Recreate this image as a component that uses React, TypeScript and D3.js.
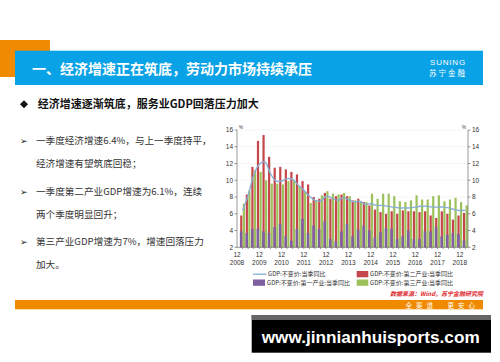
import React from "react";
import * as d3 from "d3";

// 季度（2008-12 为坐标起点，无数据）
const quarters = [
  "2009-03", "2009-06", "2009-09", "2009-12",
  "2010-03", "2010-06", "2010-09", "2010-12",
  "2011-03", "2011-06", "2011-09", "2011-12",
  "2012-03", "2012-06", "2012-09", "2012-12",
  "2013-03", "2013-06", "2013-09", "2013-12",
  "2014-03", "2014-06", "2014-09", "2014-12",
  "2015-03", "2015-06", "2015-09", "2015-12",
  "2016-03", "2016-06", "2016-09", "2016-12",
  "2017-03", "2017-06", "2017-09", "2017-12",
  "2018-03", "2018-06", "2018-09", "2018-12",
  "2019-03",
];

// GDP:不变价:当季同比
const gdpTotal = [
  6.4, 8.2, 10.6, 11.9, 12.2, 10.8, 9.9, 9.9, 10.2, 10.1, 9.4, 8.8,
  8.1, 7.6, 7.5, 8.1, 7.9, 7.6, 7.9, 7.7, 7.4, 7.5, 7.1, 7.2,
  7.0, 7.0, 6.9, 6.8, 6.7, 6.7, 6.7, 6.8, 6.9, 6.9, 6.8, 6.8,
  6.8, 6.7, 6.5, 6.4, 6.4,
];

// GDP:不变价:第一产业:当季同比
const gdpPrimary = [
  3.9, 3.7, 4.2, 4.2, 3.9, 3.7, 4.4, 4.8, 3.3, 2.8, 4.2, 5.4,
  3.7, 4.6, 4.2, 5.1, 3.0, 2.7, 3.9, 4.8, 3.3, 4.1, 4.6, 4.0,
  3.2, 3.8, 4.3, 4.2, 3.0, 3.3, 4.0, 3.0, 3.0, 3.9, 3.9, 4.4,
  3.3, 3.5, 3.7, 3.6, 2.8,
];

// GDP:不变价:第二产业:当季同比
const gdpSecondary = [
  5.8, 8.3, 11.6, 14.7, 15.4, 12.8, 11.5, 11.6, 11.3, 11.0, 10.7, 9.9,
  9.5, 8.0, 7.8, 8.5, 7.8, 8.1, 8.3, 8.1, 7.6, 7.8, 7.4, 7.0,
  6.5, 6.2, 6.0, 6.3, 6.0, 6.4, 6.3, 6.3, 6.2, 6.3, 5.8, 5.5,
  6.3, 6.0, 5.3, 5.8, 6.1,
];

// GDP:不变价:第三产业:当季同比
const gdpTertiary = [
  7.2, 8.8, 11.2, 11.0, 10.0, 9.6, 9.6, 9.5, 9.9, 9.9, 9.3, 8.6,
  7.3, 7.6, 8.2, 8.7, 8.4, 8.3, 8.5, 8.1, 7.6, 7.5, 7.4, 8.4,
  7.8, 8.4, 8.4, 8.1, 7.5, 7.4, 7.6, 8.2, 7.7, 7.7, 8.1, 8.2,
  7.5, 7.7, 7.9, 7.4, 7.0,
];

const yearTicks = [
  "2008-12", "2009-12", "2010-12", "2011-12", "2012-12", "2013-12",
  "2014-12", "2015-12", "2016-12", "2017-12", "2018-12",
];
const yTicks = [2, 4, 6, 8, 10, 12, 14, 16];

const bullets = [
  ["一季度经济增速6.4%，与上一季度持平，", "经济增速有望筑底回稳；"],
  ["一季度第二产业GDP增速为6.1%，连续", "两个季度明显回升；"],
  ["第三产业GDP增速为7%，增速回落压力", "加大。"],
];

const CN = "'Noto Sans CJK SC', 'Noto Sans', sans-serif";
const NUM = "'Liberation Sans', Arial, sans-serif";

const colors = {
  line: "#86afd2",
  primary: "#7f5f9f",
  secondary: "#c4464b",
  tertiary: "#9cc15a",
};

const App: React.FC = () => {
  const width = 500;
  const height = 362;

  const x = d3.scalePoint<string>()
    .domain(["2008-12", ...quarters])
    .range([237, 465.4]);
  const y = d3.scaleLinear().domain([2, 16]).range([247.3, 130]);
  const axisLeft = 237;
  const axisRight = 468;

  const line = d3.line<number>()
    .x((_, i) => x(quarters[i]) ?? 0)
    .y(d => y(d))
    .curve(d3.curveCatmullRom.alpha(0.5));

  return (
    <svg width={width} height={height} style={{ position: "absolute", left: 0, top: 0, background: "#fff" }}>
      {/* 标题栏 */}
      <rect x={0} y={40} width={50} height={37} fill="#f08a00" />
      <rect x={15} y={50.7} width={468} height={34.3} fill="#0aa2e6" />
      <text x={32} y={74.3} fill="#fff" fontFamily={CN} fontWeight="bold" fontSize={14}>
        一、经济增速正在筑底，劳动力市场持续承压
      </text>
      <text x={448} y={65} fill="#fff" fontFamily={NUM} fontSize={8} textAnchor="middle" letterSpacing={0.8}>
        SUNING
      </text>
      <text x={448} y={76} fill="#fff" fontFamily={CN} fontSize={7.5} textAnchor="middle" letterSpacing={2}>
        苏宁金融
      </text>

      {/* 小标题 */}
      <path d="M20,104.3 L24,100.3 L28,104.3 L24,108.3 Z" fill="#111" />
      <text x={37.7} y={108.3} fill="#111" fontFamily={CN} fontWeight="bold" fontSize={11}>
        经济增速逐渐筑底，服务业GDP回落压力加大
      </text>

      {/* 左侧要点 */}
      {bullets.map((b, i) => {
        const y0 = 144 + i * 50.5;
        return (
          <g key={i} fontFamily={CN} fontSize={9.6} fill="#333">
            <text x={20} y={y0} fontSize={9} fontFamily="'DejaVu Sans', sans-serif" fill="#222">➢</text>
            <text x={36} y={y0}>{b[0]}</text>
            <text x={36} y={y0 + 23}>{b[1]}</text>
          </g>
        );
      })}

      {/* 网格线 */}
      {yTicks.slice(1).map(t => (
        <line key={t} x1={axisLeft} x2={axisRight} y1={y(t)} y2={y(t)} stroke="#eeeeee" strokeWidth={0.6} />
      ))}

      {/* 柱形 */}
      {quarters.map((q, i) => {
        const cx = x(q) ?? 0;
        return (
          <g key={q}>
            <rect x={cx - 2.4} y={y(gdpSecondary[i])} width={2.2} height={y(2) - y(gdpSecondary[i])} fill={colors.secondary} />
            <rect x={cx - 2.7} y={y(gdpPrimary[i])} width={2.6} height={y(2) - y(gdpPrimary[i])} fill={colors.primary} />
            <rect x={cx + 0.2} y={y(gdpTertiary[i])} width={2.2} height={y(2) - y(gdpTertiary[i])} fill={colors.tertiary} />
          </g>
        );
      })}

      {/* 折线 */}
      <path d={line(gdpTotal) ?? ""} fill="none" stroke={colors.line} strokeWidth={1.4} />

      {/* 坐标轴 */}
      <g stroke="#555" strokeWidth={0.6}>
        <line x1={axisLeft} x2={axisLeft} y1={y(16)} y2={y(2)} />
        <line x1={axisRight} x2={axisRight} y1={y(16)} y2={y(2)} />
        <line x1={axisLeft} x2={axisRight} y1={y(2)} y2={y(2)} />
        {yTicks.map(t => (
          <g key={t}>
            <line x1={axisLeft - 2.5} x2={axisLeft} y1={y(t)} y2={y(t)} />
            <line x1={axisRight} x2={axisRight + 2.5} y1={y(t)} y2={y(t)} />
          </g>
        ))}
        {quarters.map(q => (
          <line key={q} x1={(x(q) ?? 0)} x2={(x(q) ?? 0)} y1={y(2)} y2={y(2) + 1.8} />
        ))}
      </g>
      <g fontFamily={NUM} fontSize={6.5} fill="#333">
        {yTicks.map(t => (
          <g key={t}>
            <text x={axisLeft - 4} y={y(t) + 2.3} textAnchor="end">{t}</text>
            <text x={axisRight + 4} y={y(t) + 2.3}>{t}</text>
          </g>
        ))}
        <text x={axisLeft + 2} y={y(16) - 1} fontSize={4.5}>%</text>
        <text x={axisRight - 2} y={y(16) - 1} fontSize={4.5} textAnchor="end">%</text>
        {yearTicks.map(t => (
          <g key={t}>
            <text x={x(t) ?? 0} y={256.5} textAnchor="middle">12</text>
            <text x={x(t) ?? 0} y={264.5} textAnchor="middle">{t.slice(0, 4)}</text>
          </g>
        ))}
      </g>

      {/* 图例 */}
      <g fontFamily={CN} fontSize={6} fill="#333">
        <line x1={253} x2={266.5} y1={274.2} y2={274.2} stroke={colors.line} strokeWidth={1.3} />
        <text x={268} y={276.3}>GDP:不变价:当季同比</text>
        <rect x={356.7} y={271} width={11.6} height={6.3} fill={colors.secondary} />
        <text x={370} y={276.3}>GDP:不变价:第二产业:当季同比</text>
        <rect x={253} y={279.5} width={12} height={6.3} fill={colors.primary} />
        <text x={267} y={284.8}>GDP:不变价:第一产业:当季同比</text>
        <rect x={356.7} y={279.5} width={11.6} height={6.3} fill={colors.tertiary} />
        <text x={370} y={284.8}>GDP:不变价:第三产业:当季同比</text>
      </g>
      <text x={483} y={295.5} textAnchor="end" fontFamily={CN} fontSize={6} fontStyle="italic" fontWeight="bold" fill="#e0262b">
        数据来源：Wind，苏宁金融研究院
      </text>

      {/* 底部色条 */}
      <rect x={15} y={300} width={468} height={9.3} fill="#f08a00" />
      <text x={479} y={307.5} textAnchor="end" fontFamily={CN} fontSize={6.5} fill="#fff" letterSpacing={4}>
        全渠道　更安心
      </text>

      {/* 水印 */}
      <rect x={251.7} y={315} width={239.3} height={37.7} fill="#000" />
      <rect x={251.7} y={315} width={239.3} height={5} fill="#666" />
      <text x={261.7} y={343} fontFamily={NUM} fontWeight="bold" fontSize={17} fill="#fff" textLength={218} lengthAdjust="spacingAndGlyphs">
        www.jinnianhuisports.com
      </text>
    </svg>
  );
};

export default App;
